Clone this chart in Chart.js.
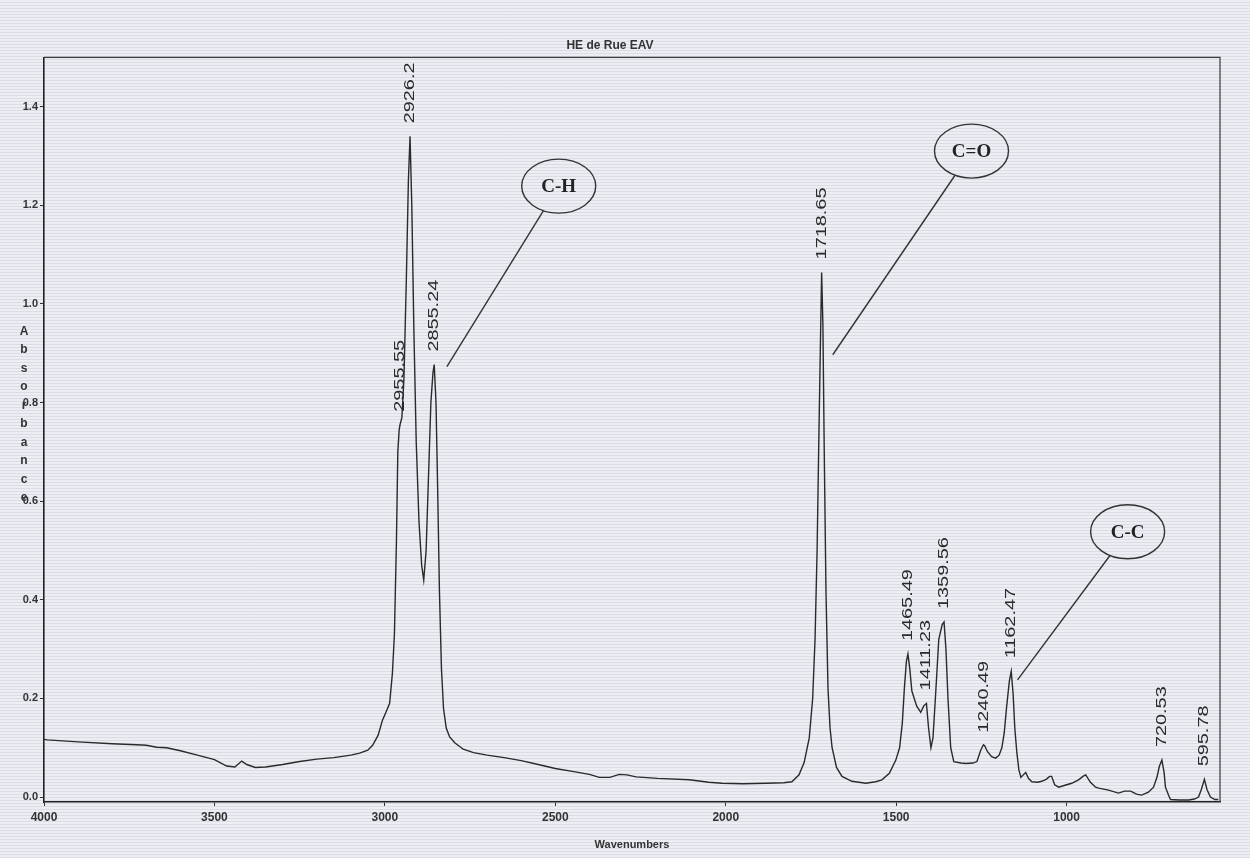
<!DOCTYPE html>
<html lang="en">

<head>
    <meta charset="UTF-8">
    <title>HE de Rue EAV</title>
    <script src="https://cdn.jsdelivr.net/npm/chart.js"></script>
    <style>
        body {
            margin: 0;
            background-color: #eceef3;
            background-image: repeating-linear-gradient(0deg, rgba(125, 130, 150, 0.16) 0px, rgba(125, 130, 150, 0.16) 1px, transparent 1px, transparent 3px);
        }

        #wrap {
            width: 1250px;
            height: 858px;
        }
    </style>
</head>

<body>
    <div id="wrap">
        <canvas id="myChart"></canvas>
    </div>

    <script>
        // spectrum (wavenumber cm-1, absorbance)
        const wavenumbers = [
            4000, 3990, 3900, 3800, 3728, 3700, 3669, 3640, 3600, 3550, 3500, 3464, 3440, 3420, 3405, 3380, 3350,
            3300, 3250, 3200, 3150, 3100, 3074, 3050, 3036, 3020, 3007, 2995, 2986, 2978, 2972, 2966, 2962, 2958,
            2955.55, 2950, 2944, 2937, 2931, 2926.2, 2921, 2915, 2908, 2900, 2892, 2886, 2879, 2872, 2865, 2859,
            2855.24, 2850, 2845, 2840, 2834, 2828, 2820, 2810, 2795, 2770, 2740, 2700, 2650, 2600, 2550, 2500,
            2450, 2400, 2371, 2340, 2312, 2290, 2263, 2200, 2107, 2050, 2011, 1950, 1882, 1830, 1806, 1785, 1770,
            1755, 1745, 1738, 1732, 1727, 1722, 1718.65, 1715, 1711, 1706, 1700, 1694, 1688, 1675, 1659, 1630,
            1589, 1560, 1542, 1520, 1501, 1490, 1482, 1476, 1470, 1465.49, 1460, 1454, 1440, 1428, 1419, 1411.23,
            1405, 1398, 1392, 1385, 1375, 1365, 1359.56, 1354, 1348, 1340, 1331, 1310, 1296, 1275, 1263, 1252,
            1244, 1240.49, 1232, 1220, 1208, 1198, 1190, 1183, 1176, 1168, 1162.47, 1157, 1152, 1146, 1140, 1134,
            1127, 1120, 1112, 1102, 1085, 1073, 1060, 1050, 1044, 1035, 1023, 1005, 985, 965, 950, 944, 930, 915,
            906, 877, 848, 830, 812, 795, 780, 760, 745, 735, 728, 720.53, 714, 710, 700, 695, 670, 642, 625, 613,
            605, 595.78, 588, 578, 565, 555
        ];
        const absorbance = [
            0.117, 0.116, 0.112, 0.108, 0.106, 0.105, 0.101, 0.100, 0.094, 0.085, 0.076, 0.063, 0.061, 0.073, 0.066, 0.060, 0.061,
            0.066, 0.072, 0.077, 0.080, 0.085, 0.089, 0.095, 0.105, 0.125, 0.156, 0.175, 0.19, 0.25, 0.33, 0.52, 0.70, 0.745,
            0.755, 0.77, 0.85, 1.05, 1.25, 1.34, 1.2, 0.95, 0.72, 0.56, 0.47, 0.44, 0.5, 0.65, 0.80, 0.86,
            0.877, 0.80, 0.62, 0.42, 0.26, 0.18, 0.14, 0.122, 0.11, 0.097, 0.09, 0.085, 0.08, 0.074, 0.066, 0.058,
            0.052, 0.046, 0.04, 0.04, 0.046, 0.045, 0.041, 0.038, 0.035, 0.03, 0.028, 0.027, 0.028, 0.029, 0.031, 0.045, 0.07,
            0.12, 0.2, 0.32, 0.5, 0.72, 0.93, 1.064, 0.96, 0.7, 0.42, 0.22, 0.14, 0.1, 0.06, 0.042, 0.032,
            0.028, 0.031, 0.035, 0.048, 0.075, 0.1, 0.15, 0.22, 0.275, 0.29, 0.26, 0.215, 0.185, 0.172, 0.185, 0.19,
            0.14, 0.10, 0.12, 0.2, 0.32, 0.35, 0.355, 0.3, 0.2, 0.1, 0.072, 0.069, 0.068, 0.069, 0.072, 0.095,
            0.106, 0.104, 0.092, 0.082, 0.079, 0.085, 0.10, 0.13, 0.183, 0.235, 0.255, 0.21, 0.14, 0.09, 0.055, 0.04,
            0.045, 0.05, 0.038, 0.031, 0.03, 0.032, 0.036, 0.042, 0.042, 0.025, 0.02, 0.024, 0.028, 0.035, 0.043, 0.045, 0.03, 0.02,
            0.018, 0.014, 0.008, 0.012, 0.012, 0.006, 0.004, 0.01, 0.02, 0.04, 0.062, 0.075, 0.05, 0.02, 0.002, -0.005, -0.006, -0.006, -0.004, 0.0,
            0.015, 0.036, 0.015, 0.0, -0.005, -0.005
        ];

        // peak picks printed on the spectrum
        const peakLabels = ['2955.55', '2926.2', '2855.24', '1718.65', '1465.49', '1411.23', '1359.56', '1240.49', '1162.47', '720.53', '595.78'];
        const peakX = [2955.55, 2926.2, 2855.24, 1718.65, 1465.49, 1411.23, 1359.56, 1240.49, 1162.47, 720.53, 595.78];
        const peakY = [0.755, 1.34, 0.877, 1.064, 0.29, 0.19, 0.355, 0.104, 0.255, 0.075, 0.036];

        // circled bond labels and where their leader lines point
        const bondLabels = ['C-H', 'C=O', 'C-C'];
        const bondX = [2490, 1279, 821];
        const bondY = [1.239, 1.31, 0.538];
        const bondTargetX = [2818, 1686, 1144];
        const bondTargetY = [0.873, 0.897, 0.2376];

        const xTicks = [4000, 3500, 3000, 2500, 2000, 1500, 1000];
        const yTicks = [0.0, 0.2, 0.4, 0.6, 0.8, 1.0, 1.2, 1.4];
        const yTitle = 'Absorbance';

        const ink = '#2a2a2a';

        const spectrumExtras = {
            id: 'spectrumExtras',
            afterDraw(chart) {
                const ctx = chart.ctx;
                const area = chart.chartArea;
                const xs = chart.scales.x;
                const ys = chart.scales.y;

                ctx.save();
                // top + right of the frame
                ctx.strokeStyle = '#3a3a3a';
                ctx.lineWidth = 1.2;
                ctx.beginPath();
                ctx.moveTo(area.left, area.top);
                ctx.lineTo(area.right, area.top);
                ctx.lineTo(area.right, area.bottom);
                ctx.stroke();

                // peak labels, rotated and stretched like the print
                ctx.fillStyle = ink;
                ctx.font = '14px "Liberation Sans", Arial, sans-serif';
                ctx.textAlign = 'left';
                ctx.textBaseline = 'middle';
                for (let i = 0; i < peakLabels.length; i++) {
                    const px = xs.getPixelForValue(peakX[i]);
                    const py = ys.getPixelForValue(peakY[i]);
                    ctx.save();
                    ctx.translate(px, py - 13);
                    ctx.rotate(-Math.PI / 2);
                    ctx.scale(1.42, 1);
                    ctx.fillText(peakLabels[i], 0, 0);
                    ctx.restore();
                }

                // circled annotations
                const rx = 37, ry = 27;
                for (let i = 0; i < bondLabels.length; i++) {
                    const cx = xs.getPixelForValue(bondX[i]);
                    const cy = ys.getPixelForValue(bondY[i]);
                    const tx = xs.getPixelForValue(bondTargetX[i]);
                    const ty = ys.getPixelForValue(bondTargetY[i]);
                    ctx.strokeStyle = '#333';
                    ctx.lineWidth = 1.4;
                    ctx.beginPath();
                    ctx.ellipse(cx, cy, rx, ry, 0, 0, Math.PI * 2);
                    ctx.stroke();
                    const dx = tx - cx, dy = ty - cy;
                    const t = 1 / Math.sqrt((dx / rx) ** 2 + (dy / ry) ** 2);
                    ctx.beginPath();
                    ctx.moveTo(cx + dx * t, cy + dy * t);
                    ctx.lineTo(tx, ty);
                    ctx.stroke();
                    ctx.fillStyle = '#222';
                    ctx.font = 'bold 19px "Liberation Serif", "DejaVu Serif", serif';
                    ctx.textAlign = 'center';
                    ctx.textBaseline = 'middle';
                    ctx.fillText(bondLabels[i], cx, cy + 1);
                }

                // stacked y title letters
                ctx.fillStyle = '#333';
                ctx.font = 'bold 12px "Liberation Sans", Arial, sans-serif';
                ctx.textAlign = 'center';
                ctx.textBaseline = 'middle';
                const mid = ys.getPixelForValue(0.775);
                const step = 18.5;
                const start = mid - step * (yTitle.length - 1) / 2;
                for (let i = 0; i < yTitle.length; i++) {
                    ctx.fillText(yTitle[i], 24, start + i * step);
                }
                ctx.restore();
            }
        };

        const ctx = document.getElementById('myChart');
        const myChart = new Chart(ctx, {
            type: 'scatter',
            data: {
                datasets: [{
                    data: wavenumbers.map((w, i) => ({ x: w, y: absorbance[i] })),
                    showLine: true,
                    pointRadius: 0,
                    borderColor: ink,
                    borderWidth: 1.4,
                    tension: 0
                }]
            },
            options: {
                responsive: true,
                maintainAspectRatio: false,
                animation: false,
                layout: { padding: { left: 0, right: 30, top: 0, bottom: 0 } },
                plugins: {
                    legend: { display: false },
                    tooltip: { enabled: false },
                    title: {
                        display: true,
                        text: 'HE de Rue EAV',
                        color: '#333',
                        font: { family: '"Liberation Sans", Arial, sans-serif', size: 12, weight: 'bold' },
                        padding: { top: 38, bottom: 5 }
                    }
                },
                scales: {
                    x: {
                        type: 'linear',
                        reverse: true,
                        min: 550,
                        max: 4000,
                        afterBuildTicks: s => { s.ticks = xTicks.map(v => ({ value: v })); },
                        afterFit: s => { s.height = 56; },
                        ticks: {
                            callback: v => String(v),
                            color: '#333',
                            padding: 4,
                            maxRotation: 0,
                            font: { family: '"Liberation Sans", Arial, sans-serif', size: 12, weight: 'bold' }
                        },
                        grid: { drawOnChartArea: false, tickLength: 4, color: '#333' },
                        border: { color: '#222', width: 1.6 },
                        title: {
                            display: true,
                            text: 'Wavenumbers',
                            color: '#333',
                            font: { family: '"Liberation Sans", Arial, sans-serif', size: 11, weight: 'bold' },
                            padding: { top: 0, bottom: 6 }
                        }
                    },
                    y: {
                        min: -0.01,
                        max: 1.5,
                        afterBuildTicks: s => { s.ticks = yTicks.map(v => ({ value: v })); },
                        afterFit: s => { s.width = 44; },
                        ticks: {
                            callback: v => v.toFixed(1),
                            color: '#333',
                            padding: 2,
                            font: { family: '"Liberation Sans", Arial, sans-serif', size: 11, weight: 'bold' }
                        },
                        grid: { drawOnChartArea: false, tickLength: 4, color: '#333' },
                        border: { color: '#222', width: 1.6 }
                    }
                }
            },
            plugins: [spectrumExtras]
        });
    </script>
</body>

</html>
